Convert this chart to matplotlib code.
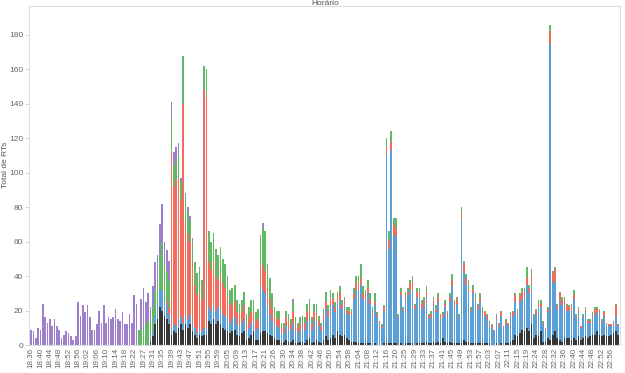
import numpy as np
import matplotlib
matplotlib.use("Agg")
import matplotlib.pyplot as plt

plt.rcParams['font.family'] = ['Liberation Sans', 'DejaVu Sans']

# Stack order bottom -> top: black, blue, red, green, purple
black = (
    [0]*10 + [0]*10 + [0]*10 + [0]*10 +
    [0,0,0,0,0,0,0,0,0,0] +
    [0,2,5,12,15,22,20,17,15,12] +
    [6,8,7,10,12,9,12,10,12,8] +
    [6,4,6,5,6,6,14,12,15,12] +
    [14,12,10,9,8,7,8,9,6,5] +
    [7,8,3,4,6,8,3,3,7,8] +
    [8,7,6,5,4,3,3,1,2,3] +
    [2,2,3,1,1,2,2,1,3,4] +
    [1,2,3,2,1,3,5,3,4,6] +
    [4,8,6,5,6,4,3,2,2,2] +
    [1,1,1,1,1,1,0,1,0,0] +
    [0,1,1,1,1,1,1,0,1,0] +
    [1,1,1,1,0,1,1,1,1,2] +
    [1,1,2,1,2,1,4,2,1,2] +
    [1,1,1,1,1,3,2,2,1,1] +
    [1,1,1,1,1,1,1,0,0,1] +
    [0,1,0,1,1,2,3,6,5,7] +
    [9,8,10,8,12,4,6,5,8,2] +
    [2,4,3,6,8,4,3,2,4,4] +
    [4,3,4,3,5,3,4,5,4,5] +
    [6,6,8,6,5,6,5,5,6,7] +
    [8,6]
)
blue = (
    [0]*10 + [0]*10 + [0]*10 + [0]*10 +
    [0]*10 +
    [0,2,3,5,8,10,12,10,8,6] +
    [3,4,4,5,5,4,5,5,6,5] +
    [4,3,4,3,4,4,8,8,9,8] +
    [8,9,8,8,8,6,7,7,6,6] +
    [6,7,5,6,7,6,6,7,27,24] +
    [22,16,12,9,8,8,7,6,5,8] +
    [8,7,10,8,6,7,8,8,11,12] +
    [8,12,11,9,7,11,16,13,19,17] +
    [15,16,20,16,17,14,15,15,25,30] +
    [31,34,26,25,29,23,18,22,16,12] +
    [10,19,110,55,112,63,62,16,28,20] +
    [26,28,31,31,21,27,26,20,22,26] +
    [14,15,21,18,23,14,12,20,16,23] +
    [33,21,23,15,72,39,33,29,19,29] +
    [24,20,24,17,16,14,10,10,8,14] +
    [11,16,10,11,10,14,14,19,13,18] +
    [18,20,25,22,22,12,12,17,14,10] +
    [7,15,172,30,29,17,23,21,19,16] +
    [16,17,23,13,14,7,12,14,9,8] +
    [10,12,11,12,8,11,7,6,5,6] +
    [9,5]
)
red = (
    [0]*10 + [0]*10 + [0]*10 + [0]*10 + [0]*10 +
    [0,0,0,0,0,0,0,0,2,4] +
    [103,80,85,82,68,127,55,50,42,35] +
    [25,22,20,18,138,134,26,24,24,20] +
    [16,20,18,16,12,10,9,9,7,7] +
    [6,8,5,6,6,5,5,5,13,14] +
    [13,10,9,7,5,4,5,3,3,5] +
    [4,3,6,4,3,3,3,4,5,5] +
    [4,5,4,3,3,4,4,4,5,4] +
    [3,4,5,3,3,2,2,2,3,4] +
    [3,4,3,3,3,3,2,2,2,2] +
    [1,2,4,5,5,6,5,1,2,1] +
    [2,2,4,5,2,3,4,3,3,3] +
    [2,2,3,2,3,2,2,2,2,3] +
    [4,3,3,1,4,5,4,2,1,2] +
    [2,2,2,2,2,2,2,1,1,2] +
    [1,2,1,2,1,2,2,4,2,3] +
    [4,3,4,3,7,1,2,2,2,1] +
    [1,2,7,6,7,2,4,3,3,3] +
    [2,3,2,1,2,1,1,2,1,1] +
    [2,3,2,2,1,2,1,1,1,1] +
    [6,1]
)
green = (
    [0]*10 + [0]*10 + [0]*10 + [0]*10 +
    [0,0,0,0,0,0,9,8,10,12] +
    [14,10,14,15,13,20,28,20,18,15] +
    [19,12,12,14,10,28,14,12,12,12] +
    [13,13,15,12,14,16,18,16,17,16] +
    [14,16,14,14,12,9,9,10,7,6] +
    [7,8,5,6,7,7,5,6,17,22] +
    [23,14,12,9,5,5,5,3,3,4] +
    [4,3,6,3,3,4,4,3,5,6] +
    [3,5,6,3,2,3,6,3,4,3] +
    [3,3,3,2,2,2,2,2,3,4] +
    [5,8,4,3,5,3,2,5,1,0] +
    [1,1,5,5,6,4,6,1,2,1] +
    [2,2,2,2,1,2,2,2,2,3] +
    [1,2,2,2,2,1,1,2,1,2] +
    [3,1,1,1,3,2,2,5,1,2] +
    [3,1,3,2,1,1,1,1,0,1] +
    [1,1,0,1,1,1,1,1,1,2] +
    [2,2,6,2,3,1,1,2,2,1] +
    [0,1,4,1,1,1,1,2,2,1] +
    [1,1,3,1,1,0,1,1,1,1] +
    [1,1,1,1,1,1,0,0,0,0] +
    [1,0]
)
purple = (
    [9,8,4,10,9,24,16,13,15,11] +
    [15,11,9,4,6,8,7,5,3,5] +
    [25,17,23,19,23,16,9,9,12,20] +
    [13,23,13,16,15,16,21,15,14,19] +
    [12,12,18,13,29,24,0,19,23,13] +
    [16,8,12,16,16,18,22,13,12,12] +
    [10,8,7,6,2,0,2,3,3,2] +
    [0]*10 + [0]*10 +
    [0,0,0,0,0,0,0,0,0,3] +
    [0]*10 +
    [0,0,2,0,0,0,0,0,0,0] +
    [0]*10 + [0]*10 + [0]*10 + [0]*10 +
    [0,0,0,1,0,0,0,0,0,0] +
    [0]*10 +
    [0,0,0,0,0,0,0,0,0,1] +
    [0]*10 + [0]*10 + [0]*10 + [0]*10 + [0]*10 + [0]*10 +
    [0,0]
)

tick_labels = ["18:36","18:40","18:44","18:48","18:52","18:56","19:02","19:06","19:10",
               "19:14","19:18","19:22","19:27","19:31","19:35","19:39","19:43","19:47",
               "19:51","19:55","19:59","20:05","20:09","20:13","20:17","20:21","20:26",
               "20:30","20:34","20:38","20:42","20:46","20:50","20:54","20:58","21:04",
               "21:08","21:12","21:16","21:20","21:25","21:29","21:33","21:37","21:41",
               "21:45","21:49","21:53","21:57","22:03","22:07","22:11","22:15","22:19",
               "22:24","22:28","22:32","22:36","22:40","22:44","22:48","22:52","22:56"]
tick_step = 4

series = [black, blue, red, green, purple]
colors = ["#363636", "#5a9fd6", "#f26b5b", "#62b964", "#9d7fcb"]

N = len(black)
for s in series:
    assert len(s) == N, len(s)

fig = plt.figure(figsize=(6.25, 3.73), dpi=100)
ax = fig.add_axes([0.047, 0.075, 0.945, 0.91])
x = np.arange(N)
bottom = np.zeros(N)
for s, c in zip(series, colors):
    v = np.array(s, dtype=float)
    ax.bar(x, v, bottom=bottom, width=0.72, color=c, linewidth=0)
    bottom += v

ax.set_xlim(-0.8, N - 0.2)
ax.set_ylim(0, 197)
ax.set_yticks(np.arange(0, 181, 20))
ax.tick_params(axis='y', labelsize=6, colors='#666666', length=3, width=0.6,
               color='#cccccc', pad=1.5)
ax.set_xticks(np.arange(0, len(tick_labels) * tick_step, tick_step))
ax.set_xticklabels(tick_labels, rotation=90, fontsize=5.8, color='#666666')
ax.tick_params(axis='x', length=0, pad=2)
for sp in ax.spines.values():
    sp.set_color('#dddddd')
    sp.set_linewidth(0.8)

fig.text(0.009, 0.5 + 0.075 / 2 + 0.02, "Total de RTs", rotation=90, ha='center', va='center',
         fontsize=6, color='#555555')
fig.text(0.52, 0.999, "Horário", ha='center', va='top', fontsize=6, color='#555555')

fig.savefig("out.png", dpi=100, facecolor='white')
